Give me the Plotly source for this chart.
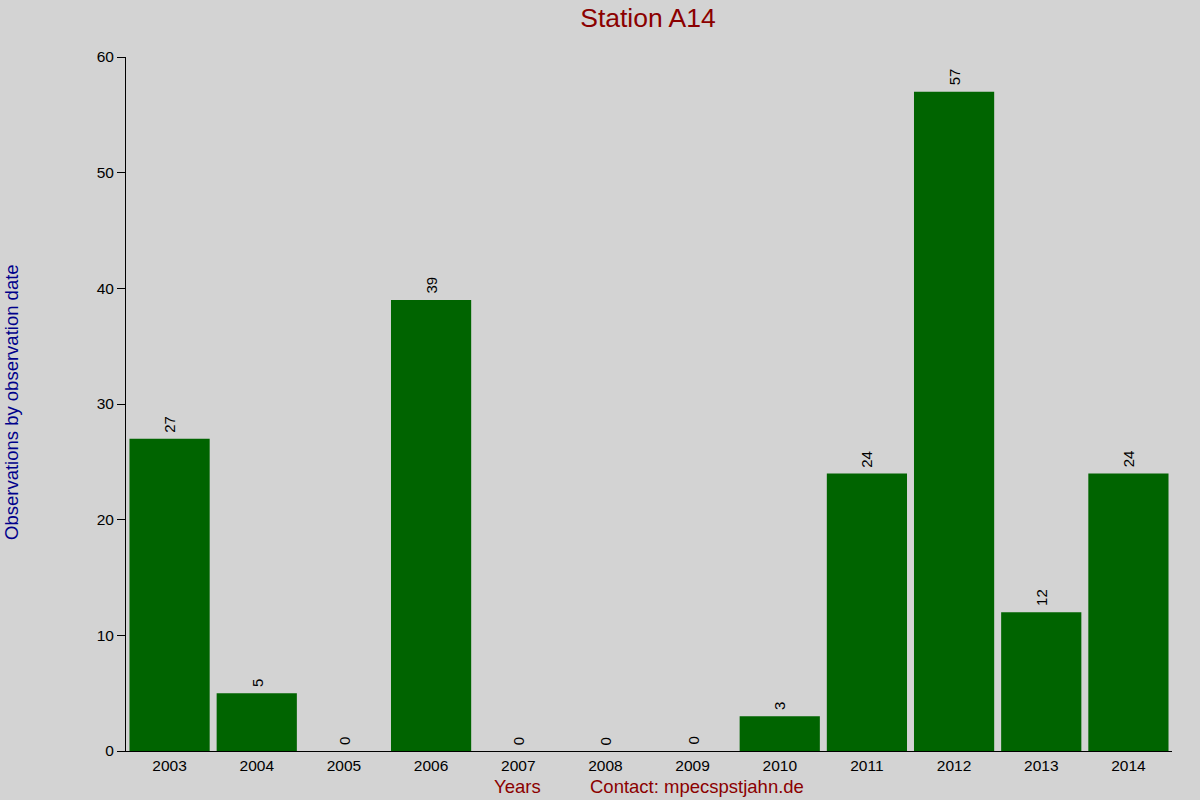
import plotly.graph_objects as go

years = ["2003", "2004", "2005", "2006", "2007", "2008", "2009",
         "2010", "2011", "2012", "2013", "2014"]
counts = [27, 5, 0, 39, 0, 0, 0, 3, 24, 57, 12, 24]

W, H = 1200, 800
L, R, T, B = 126, 28, 57, 49
pw, ph = W - L - R, H - T - B

fig = go.Figure(go.Bar(
    x=years, y=counts,
    marker=dict(color="#006400", line=dict(width=0)),
))

# value labels, rotated, a little above each bar (x given as category index)
for i, c in enumerate(counts):
    fig.add_annotation(x=i, y=c, text=str(c), textangle=-90, showarrow=False,
                       yanchor="bottom", yshift=4, font=dict(size=15, color="black"))

# footer texts (pixel positions converted to paper coords)
for txt, px_x in [("Years", 517), ("Contact: mpecspstjahn.de", 697)]:
    fig.add_annotation(text=txt, xref="paper", yref="paper", showarrow=False,
                       x=(px_x - L) / pw, y=(H - B - 786) / ph,
                       xanchor="center", yanchor="middle",
                       font=dict(color="#8b0000", size=18.5))

# y axis title
fig.add_annotation(text="Observations by observation date", xref="paper", yref="paper",
                   showarrow=False, textangle=-90, x=(12 - L) / pw, y=(H - B - 402) / ph,
                   xanchor="center", yanchor="middle",
                   font=dict(color="#00008b", size=18.5))

fig.update_layout(
    width=W, height=H,
    paper_bgcolor="#d3d3d3", plot_bgcolor="#d3d3d3",
    font=dict(family="Liberation Sans, Arial", color="black", size=15.5),
    margin=dict(l=L, r=R, t=T, b=B, autoexpand=False),
    bargap=0.08,
    showlegend=False,
    title=dict(text="Station A14", x=648 / W, xanchor="center", y=1 - 18 / H, yanchor="middle",
               font=dict(color="#8b0000", size=26.5)),
    xaxis=dict(type="category", showline=True, linecolor="black", linewidth=1,
               showgrid=False, ticks="", tickfont=dict(size=15.5), automargin=False),
    yaxis=dict(range=[0, 60], dtick=10, showline=True, linecolor="black", linewidth=1,
               showgrid=False, zeroline=False, ticks="outside", ticklen=8,
               tickcolor="black", tickfont=dict(size=15.5), automargin=False),
)

fig.write_html("out.html", config={"displayModeBar": False},
               post_script="document.body.style.margin='0';")
